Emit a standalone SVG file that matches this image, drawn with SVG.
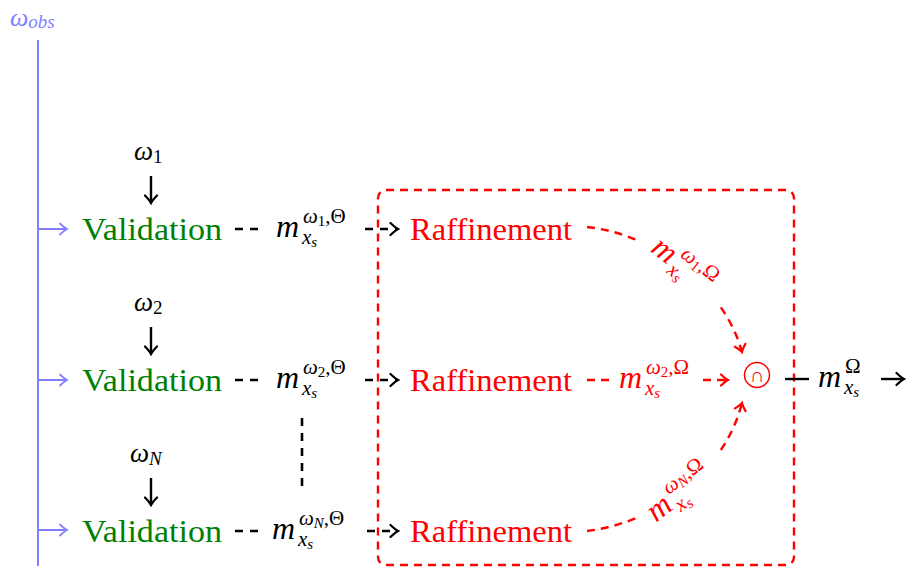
<svg xmlns="http://www.w3.org/2000/svg" width="906" height="569" viewBox="0 0 906 569">
<style>
text{font-family:"Liberation Serif","Tinos","Noto Serif","DejaVu Serif","Times New Roman",Times,serif}
.it{font-style:italic}
.up{font-style:normal}
.green{fill:#008000}
.red{fill:#ff0000}
.blk{fill:#000}
.blue{fill:#8080ff}
.dk{stroke:#000;stroke-width:2.6;fill:none;stroke-dasharray:8 7}
.dr{stroke:#ff0000;stroke-width:2.4;fill:none;stroke-dasharray:8 6}
.bl{stroke:#8080ff;stroke-width:2;fill:none}
.sk{stroke:#000;stroke-width:2.4;fill:none}
</style>
<defs>
<marker id="ak" viewBox="-10 -8 12 16" refX="0" refY="0" markerWidth="12" markerHeight="16" markerUnits="userSpaceOnUse" orient="auto">
<path d="M-7.5,-6 Q-2.5,-1.2 0,0 Q-2.5,1.2 -7.5,6" fill="none" stroke="#000" stroke-width="2.2" stroke-linecap="round"/>
</marker>
<marker id="ar" viewBox="-10 -8 12 16" refX="0" refY="0" markerWidth="12" markerHeight="16" markerUnits="userSpaceOnUse" orient="auto">
<path d="M-7,-5.5 Q-2.5,-1.2 0,0 Q-2.5,1.2 -7,5.5" fill="none" stroke="#ff0000" stroke-width="2.2" stroke-linecap="round"/>
</marker>
<marker id="ab" viewBox="-10 -8 12 16" refX="0" refY="0" markerWidth="12" markerHeight="16" markerUnits="userSpaceOnUse" orient="auto">
<path d="M-7,-5.5 Q-2.5,-1.2 0,0 Q-2.5,1.2 -7,5.5" fill="none" stroke="#8080ff" stroke-width="1.8" stroke-linecap="round"/>
</marker>
</defs>

<g id="obs">
<text class="it blue" x="10" y="26" font-size="26">ω<tspan font-size="19" dy="2">obs</tspan></text>
<line class="bl" x1="38" y1="40" x2="38" y2="566"/>
</g>

<g id="box">
<rect x="378" y="190" width="416" height="375" rx="8" ry="8" class="dr"/>
</g>

<g id="omega1"><text class="it blk" x="134" y="160" font-size="27">ω<tspan class="up" font-size="19" dy="3">1</tspan></text></g>
<g id="omega2"><text class="it blk" x="134" y="311" font-size="27">ω<tspan class="up" font-size="19" dy="3">2</tspan></text></g>
<g id="omegaN"><text class="it blk" x="130" y="462" font-size="27">ω<tspan font-size="19" dy="3">N</tspan></text></g>

<g id="validation1"><text class="green" x="82" y="240" font-size="32" textLength="140" lengthAdjust="spacingAndGlyphs">Validation</text></g>
<g id="validation2"><text class="green" x="82" y="391" font-size="32" textLength="140" lengthAdjust="spacingAndGlyphs">Validation</text></g>
<g id="validation3"><text class="green" x="82" y="542" font-size="32" textLength="140" lengthAdjust="spacingAndGlyphs">Validation</text></g>

<g id="raffinement1"><text class="red" x="410" y="240" font-size="32" textLength="162" lengthAdjust="spacingAndGlyphs">Raffinement</text></g>
<g id="raffinement2"><text class="red" x="410" y="391" font-size="32" textLength="162" lengthAdjust="spacingAndGlyphs">Raffinement</text></g>
<g id="raffinement3"><text class="red" x="410" y="542" font-size="32" textLength="162" lengthAdjust="spacingAndGlyphs">Raffinement</text></g>

<g id="intersection">
<circle cx="757" cy="375" r="12.5" fill="none" stroke="#ff0000" stroke-width="1.5"/>
<text class="red" x="757" y="382" font-size="20" text-anchor="middle">∩</text>
</g>

<g id="connectors">
<line class="bl" x1="38" y1="229" x2="67" y2="229" marker-end="url(#ab)"/>
<line class="bl" x1="38" y1="380" x2="67" y2="380" marker-end="url(#ab)"/>
<line class="bl" x1="38" y1="530" x2="67" y2="530" marker-end="url(#ab)"/>

<line class="sk" x1="151" y1="176" x2="151" y2="203" marker-end="url(#ak)"/>
<line class="sk" x1="151" y1="327" x2="151" y2="354" marker-end="url(#ak)"/>
<line class="sk" x1="151" y1="478" x2="151" y2="505" marker-end="url(#ak)"/>

<line class="dk" x1="235" y1="229" x2="262" y2="229"/>
<line class="dk" x1="365" y1="229" x2="398" y2="229" marker-end="url(#ak)"/>
<line class="dk" x1="235" y1="380" x2="262" y2="380"/>
<line class="dk" x1="365" y1="380" x2="398" y2="380" marker-end="url(#ak)"/>
<line class="dk" x1="235" y1="531" x2="262" y2="531"/>
<line class="dk" x1="367" y1="531" x2="398" y2="531" stroke-dasharray="2 9 8 7" marker-end="url(#ak)"/>

<text class="it blk" font-size="32" x="276" y="237">m<tspan x="303" dy="-14" font-size="21">ω</tspan><tspan class="up" font-size="15" dy="3">1</tspan><tspan class="up" font-size="21" dy="-3">,Θ</tspan><tspan x="302" dy="21" font-size="21">x</tspan><tspan font-size="15" dy="3">s</tspan></text>
<text class="it blk" font-size="32" x="276" y="388">m<tspan x="303" dy="-14" font-size="21">ω</tspan><tspan class="up" font-size="15" dy="3">2</tspan><tspan class="up" font-size="21" dy="-3">,Θ</tspan><tspan x="302" dy="21" font-size="21">x</tspan><tspan font-size="15" dy="3">s</tspan></text>
<text class="it blk" font-size="32" x="272" y="539">m<tspan x="299" dy="-14" font-size="21">ω</tspan><tspan font-size="15" dy="3">N</tspan><tspan class="up" font-size="21" dy="-3">,Θ</tspan><tspan x="298" dy="21" font-size="21">x</tspan><tspan font-size="15" dy="3">s</tspan></text>

<line class="dk" x1="302" y1="418" x2="302" y2="491" stroke-dasharray="8 8"/>

<path class="dr" d="M587,227 C605.25,229 623,233.94 639.6,241.2"/>
<path class="dr" d="M720.9,307.4 C730.5,321.44 737.75,336.5 742,352" marker-end="url(#ar)"/>
<text class="it red" font-size="32" transform="translate(685,267) rotate(38)" x="-38" y="9">m<tspan x="-11" dy="-14" font-size="21">ω</tspan><tspan class="up" font-size="15" dy="3">1</tspan><tspan class="up" font-size="21" dy="-3">,Ω</tspan><tspan x="-12" dy="21" font-size="21">x</tspan><tspan font-size="15" dy="3">s</tspan></text>

<line class="dr" x1="587" y1="380" x2="613" y2="380"/>
<line class="dr" x1="703" y1="380" x2="728" y2="380" stroke-dasharray="2 8 8 6" marker-end="url(#ar)"/>
<text class="it red" font-size="32" x="619" y="388">m<tspan x="646" dy="-14" font-size="21">ω</tspan><tspan class="up" font-size="15" dy="3">2</tspan><tspan class="up" font-size="21" dy="-3">,Ω</tspan><tspan x="645" dy="21" font-size="21">x</tspan><tspan font-size="15" dy="3">s</tspan></text>

<path class="dr" d="M587,531 C605.25,528.75 623,523.81 639.6,516.6"/>
<path class="dr" d="M720.9,450 C730.5,435.56 737.75,419.75 742,403" marker-end="url(#ar)"/>
<text class="it red" font-size="32" transform="translate(682,491) rotate(-38)" x="-40" y="9">m<tspan x="-13" dy="-14" font-size="21">ω</tspan><tspan font-size="15" dy="3">N</tspan><tspan class="up" font-size="21" dy="-3">,Ω</tspan><tspan x="-14" dy="21" font-size="21">x</tspan><tspan font-size="15" dy="3">s</tspan></text>

<line class="sk" x1="785" y1="379" x2="809" y2="379"/>
<line class="sk" x1="881" y1="379" x2="904" y2="379" marker-end="url(#ak)"/>
<text class="it blk" font-size="32" x="818" y="387">m<tspan class="up" x="845" dy="-14" font-size="21">Ω</tspan><tspan x="844" dy="21" font-size="21">x</tspan><tspan font-size="15" dy="3">s</tspan></text>
</g>
</svg>
